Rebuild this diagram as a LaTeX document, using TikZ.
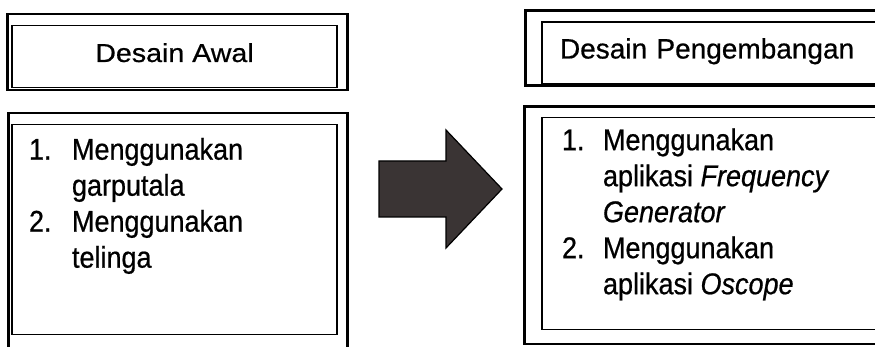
\documentclass[tikz,border=0pt]{standalone}
\usepackage{fontspec}
\setmainfont[FakeBold=0.6]{Liberation Sans}
\newfontfamily\bodyfont[FakeStretch=0.9, FakeBold=0.6]{Liberation Sans}
\newfontfamily\headfont[FakeStretch=1.1, FakeBold=0.6]{Liberation Sans}
\usepackage{tikz}
\usetikzlibrary{positioning, calc}
\definecolor{arrowgray}{RGB}{58,52,52}
\tikzset{
    headbox/.style={rectangle, draw, line width=1.2pt, minimum height=62pt,
                    text height=20pt, text depth=9pt, inner ysep=0pt,
                    font=\fontsize{28}{36}\selectfont},
    listbox/.style={rectangle, draw, line width=1.2pt, inner ysep=0pt,
                    font=\bodyfont\fontsize{30}{36}\selectfont},
    outerframe/.style={draw, line width=2.6pt},
    bigarrow/.style={draw=black, fill=arrowgray, line width=1.2pt}
}

\begin{document}
\begin{tikzpicture}[x=1pt, y=-1pt]
    \useasboundingbox (0,0) rectangle (875,347);
    \clip (0,0) rectangle (875,347);

    % left column
    \node[headbox, minimum width=325pt, font=\headfont\fontsize{26}{36}\selectfont] (hdrL) at (174.5,56.5) {Desain Awal};
    \node[listbox, inner xsep=17pt, text height=35pt, text depth=175pt, below=36pt of hdrL] (listL)
        {\begin{tabular}[t]{@{}p{43pt}@{}p{248pt}@{}}
            1. & Menggunakan\\
               & garputala\\
            2. & Menggunakan\\
               & telinga
         \end{tabular}};

    % right column
    \node[headbox, text width=324pt, inner xsep=18pt, align=left] (hdrR) at (722,53) {Desain Pengembangan};
    \node[listbox, inner xsep=20pt, text height=33pt, text depth=179pt, below=32pt of hdrR] (listR)
        {\begin{tabular}[t]{@{}p{41pt}@{}p{279pt}@{}}
            1. & Menggunakan\\
               & aplikasi \textit{Frequency}\\
               & \textit{Generator}\\
            2. & Menggunakan\\
               & aplikasi \textit{Oscope}
         \end{tabular}};

    % thick outer frames
    \draw[outerframe] ($(hdrL.north west)+(-4,-11)$) rectangle ($(hdrL.south east)+(10,2)$);
    \draw[outerframe] ($(listL.north west)+(-3,-11)$) rectangle ($(listL.south east)+(10,20)$);
    \draw[outerframe] ($(hdrR.north west)+(-16,-11)$) rectangle ($(hdrR.south east)+(10,1)$);
    \draw[outerframe] ($(listR.north west)+(-17,-10)$) rectangle ($(listR.south east)+(10,14)$);

    % block arrow
    \draw[bigarrow] (379,161) -- (446,161) -- (446,130) -- (502,189)
        -- (446,248) -- (446,217) -- (379,217) -- cycle;
\end{tikzpicture}
\end{document}
